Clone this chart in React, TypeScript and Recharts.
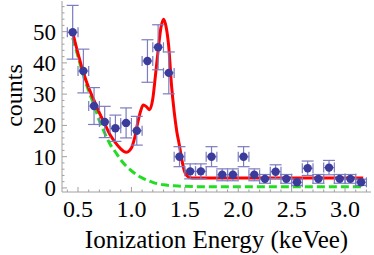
import React from 'react';
import {
  ComposedChart,
  Line,
  Scatter,
  ErrorBar,
  XAxis,
  YAxis,
} from 'recharts';

// measured spectrum (bin centres, counts, errors)
const energy = [0.45, 0.55, 0.65, 0.75, 0.85, 0.95, 1.05, 1.15, 1.25, 1.35, 1.45, 1.55, 1.65, 1.75, 1.85, 1.95, 2.05, 2.15, 2.25, 2.35, 2.45, 2.55, 2.65, 2.75, 2.85, 2.95, 3.05, 3.15];
const counts = [49.8, 37.4, 26.2, 21.1, 19.1, 20.8, 18.3, 40.6, 45.0, 36.8, 10.0, 5.3, 5.3, 10.0, 4.2, 4.2, 10.0, 4.2, 2.9, 5.2, 2.9, 1.8, 6.3, 2.9, 6.5, 2.9, 2.9, 1.8];
const countErr = [8.6, 7.0, 5.9, 5.0, 4.2, 4.8, 4.6, 6.8, 7.2, 6.7, 3.2, 2.4, 2.4, 3.2, 1.9, 1.9, 3.2, 1.9, 1.4, 2.2, 1.4, 1.0, 2.3, 1.4, 2.3, 1.4, 1.4, 1.0];
const binHalfWidth = 0.05;

// total fit (red)
const fitE = [0.45, 0.5, 0.55, 0.6, 0.65, 0.7, 0.75, 0.8, 0.85, 0.9, 0.95, 1.0, 1.03, 1.06, 1.09, 1.11, 1.14, 1.17, 1.2, 1.225, 1.25, 1.275, 1.3, 1.325, 1.35, 1.375, 1.4, 1.425, 1.45, 1.475, 1.5, 1.53, 1.57, 2.0, 2.5, 3.17];
const fitC = [49.8, 43, 37, 32, 28, 24, 20.5, 17, 14.5, 12.5, 11.4, 12.8, 16, 21, 25, 26.5, 26, 25, 28.5, 36, 44, 51, 54, 51.5, 45, 33, 24.5, 18, 13.5, 8.5, 5, 3.6, 3.2, 3.2, 3.2, 3.2];

// background component (green dashed)
const bgE = [0.45, 0.5, 0.55, 0.6, 0.65, 0.7, 0.75, 0.8, 0.85, 0.9, 0.95, 1.0, 1.05, 1.1, 1.2, 1.3, 1.4, 1.5, 1.7, 2.0, 3.17];
const bgC = [48, 42, 36, 31, 26.5, 21.5, 17.5, 14, 11.5, 9, 7, 5.5, 4.2, 3.2, 1.8, 1.0, 0.7, 0.5, 0.4, 0.4, 0.4];

const xTicks = [0.4, 0.5, 0.6, 0.7, 0.8, 0.9, 1.0, 1.1, 1.2, 1.3, 1.4, 1.5, 1.6, 1.7, 1.8, 1.9, 2.0, 2.1, 2.2, 2.3, 2.4, 2.5, 2.6, 2.7, 2.8, 2.9, 3.0, 3.1, 3.2];
const yTicks = [0, 2, 4, 6, 8, 10, 12, 14, 16, 18, 20, 22, 24, 26, 28, 30, 32, 34, 36, 38, 40, 42, 44, 46, 48, 50, 52, 54, 56, 58];

const points = energy.map((x, i) => ({ x, y: counts[i], yErr: countErr[i], xErr: binHalfWidth }));
const fitData = fitE.map((x, i) => ({ x, y: fitC[i] }));
const bgData = bgE.map((x, i) => ({ x, y: bgC[i] }));

const textStyle: React.CSSProperties = {
  fontFamily: 'Liberation Serif, DejaVu Serif, serif',
  fill: '#000',
};
const FRAME = '#a0a0a0';

const isMajorX = (v: number) => Math.abs(v * 2 - Math.round(v * 2)) < 1e-6;
const isMajorY = (v: number) => v % 10 === 0;

const BottomTick = ({ x, y, payload }: any) => {
  const major = isMajorX(payload.value);
  return (
    <g>
      <line x1={x} x2={x} y1={y} y2={y - (major ? 5 : 2.5)} stroke={FRAME} />
      {major && (
        <text x={x} y={y + 25} textAnchor="middle" style={{ ...textStyle, fontSize: 24 }}>
          {payload.value.toFixed(1)}
        </text>
      )}
    </g>
  );
};

const TopTick = ({ x, y, payload }: any) => (
  <line x1={x} x2={x} y1={y} y2={y + (isMajorX(payload.value) ? 5 : 2.5)} stroke={FRAME} />
);

const LeftTick = ({ x, y, payload }: any) => {
  const major = isMajorY(payload.value);
  return (
    <g>
      <line x1={x} x2={x + (major ? 5 : 2.5)} y1={y} y2={y} stroke={FRAME} />
      {major && (
        <text x={x - 6} y={y + 8} textAnchor="end" style={{ ...textStyle, fontSize: 23 }}>
          {payload.value}
        </text>
      )}
    </g>
  );
};

const RightTick = ({ x, y, payload }: any) => (
  <line x1={x} x2={x - (isMajorY(payload.value) ? 5 : 2.5)} y1={y} y2={y} stroke={FRAME} />
);

const XLabel = ({ viewBox }: any) => (
  <text
    x={viewBox.x + viewBox.width / 2}
    y={viewBox.y + viewBox.height - 7}
    textAnchor="middle"
    style={{ ...textStyle, fontSize: 25 }}
  >
    Ionization Energy (keVee)
  </text>
);

const YLabel = ({ viewBox }: any) => (
  <text
    transform={`translate(${viewBox.x + 21.5},${viewBox.y + viewBox.height / 2 - 1}) rotate(-90)`}
    textAnchor="middle"
    style={{ ...textStyle, fontSize: 24 }}
  >
    counts
  </text>
);

const Dot = (p: any) => <circle cx={p.cx} cy={p.cy} r={4.2} fill="#3b3b9b" />;

const App: React.FC = () => {
  return (
    <div style={{ position: 'absolute', left: 0, top: 0, background: '#fff' }}>
      <ComposedChart width={374} height={255} margin={{ top: 1, right: 3, bottom: 0, left: 0 }}>
        <XAxis
          xAxisId="b"
          type="number"
          dataKey="x"
          domain={[0.35, 3.243]}
          allowDataOverflow
          ticks={xTicks}
          interval={0}
          height={63}
          tickSize={0}
          tickMargin={0}
          tickLine={false}
          axisLine={{ stroke: FRAME }}
          tick={<BottomTick />}
          label={{ content: <XLabel /> }}
        />
        <XAxis
          xAxisId="t"
          orientation="top"
          type="number"
          dataKey="x"
          domain={[0.35, 3.243]}
          allowDataOverflow
          ticks={xTicks}
          interval={0}
          height={0}
          tickSize={0}
          tickMargin={0}
          tickLine={false}
          axisLine={{ stroke: FRAME }}
          tick={<TopTick />}
        />
        <YAxis
          yAxisId="l"
          type="number"
          domain={[-1.3, 59.8]}
          allowDataOverflow
          ticks={yTicks}
          interval={0}
          width={62}
          tickSize={0}
          tickMargin={0}
          tickLine={false}
          axisLine={{ stroke: FRAME }}
          tick={<LeftTick />}
          label={{ content: <YLabel /> }}
        />
        <YAxis
          yAxisId="r"
          orientation="right"
          type="number"
          domain={[-1.3, 59.8]}
          allowDataOverflow
          ticks={yTicks}
          interval={0}
          width={0}
          tickSize={0}
          tickMargin={0}
          tickLine={false}
          axisLine={{ stroke: FRAME }}
          tick={<RightTick />}
        />
        <Line
          xAxisId="b"
          yAxisId="l"
          data={bgData}
          dataKey="y"
          type="monotone"
          stroke="#22dd22"
          strokeWidth={3}
          strokeDasharray="8 4"
          dot={false}
          isAnimationActive={false}
        />
        <Line
          xAxisId="b"
          yAxisId="l"
          data={fitData}
          dataKey="y"
          type="monotone"
          stroke="#ff0000"
          strokeWidth={3}
          dot={false}
          isAnimationActive={false}
        />
        <Scatter
          xAxisId="b"
          yAxisId="l"
          data={points}
          dataKey="y"
          shape={<Dot />}
          isAnimationActive={false}
        >
          <ErrorBar dataKey="yErr" direction="y" width={6} stroke="#7c7cc0" strokeWidth={1.2} />
          <ErrorBar dataKey="xErr" direction="x" width={5} stroke="#7c7cc0" strokeWidth={1.2} />
        </Scatter>
      </ComposedChart>
    </div>
  );
};

export default App;
